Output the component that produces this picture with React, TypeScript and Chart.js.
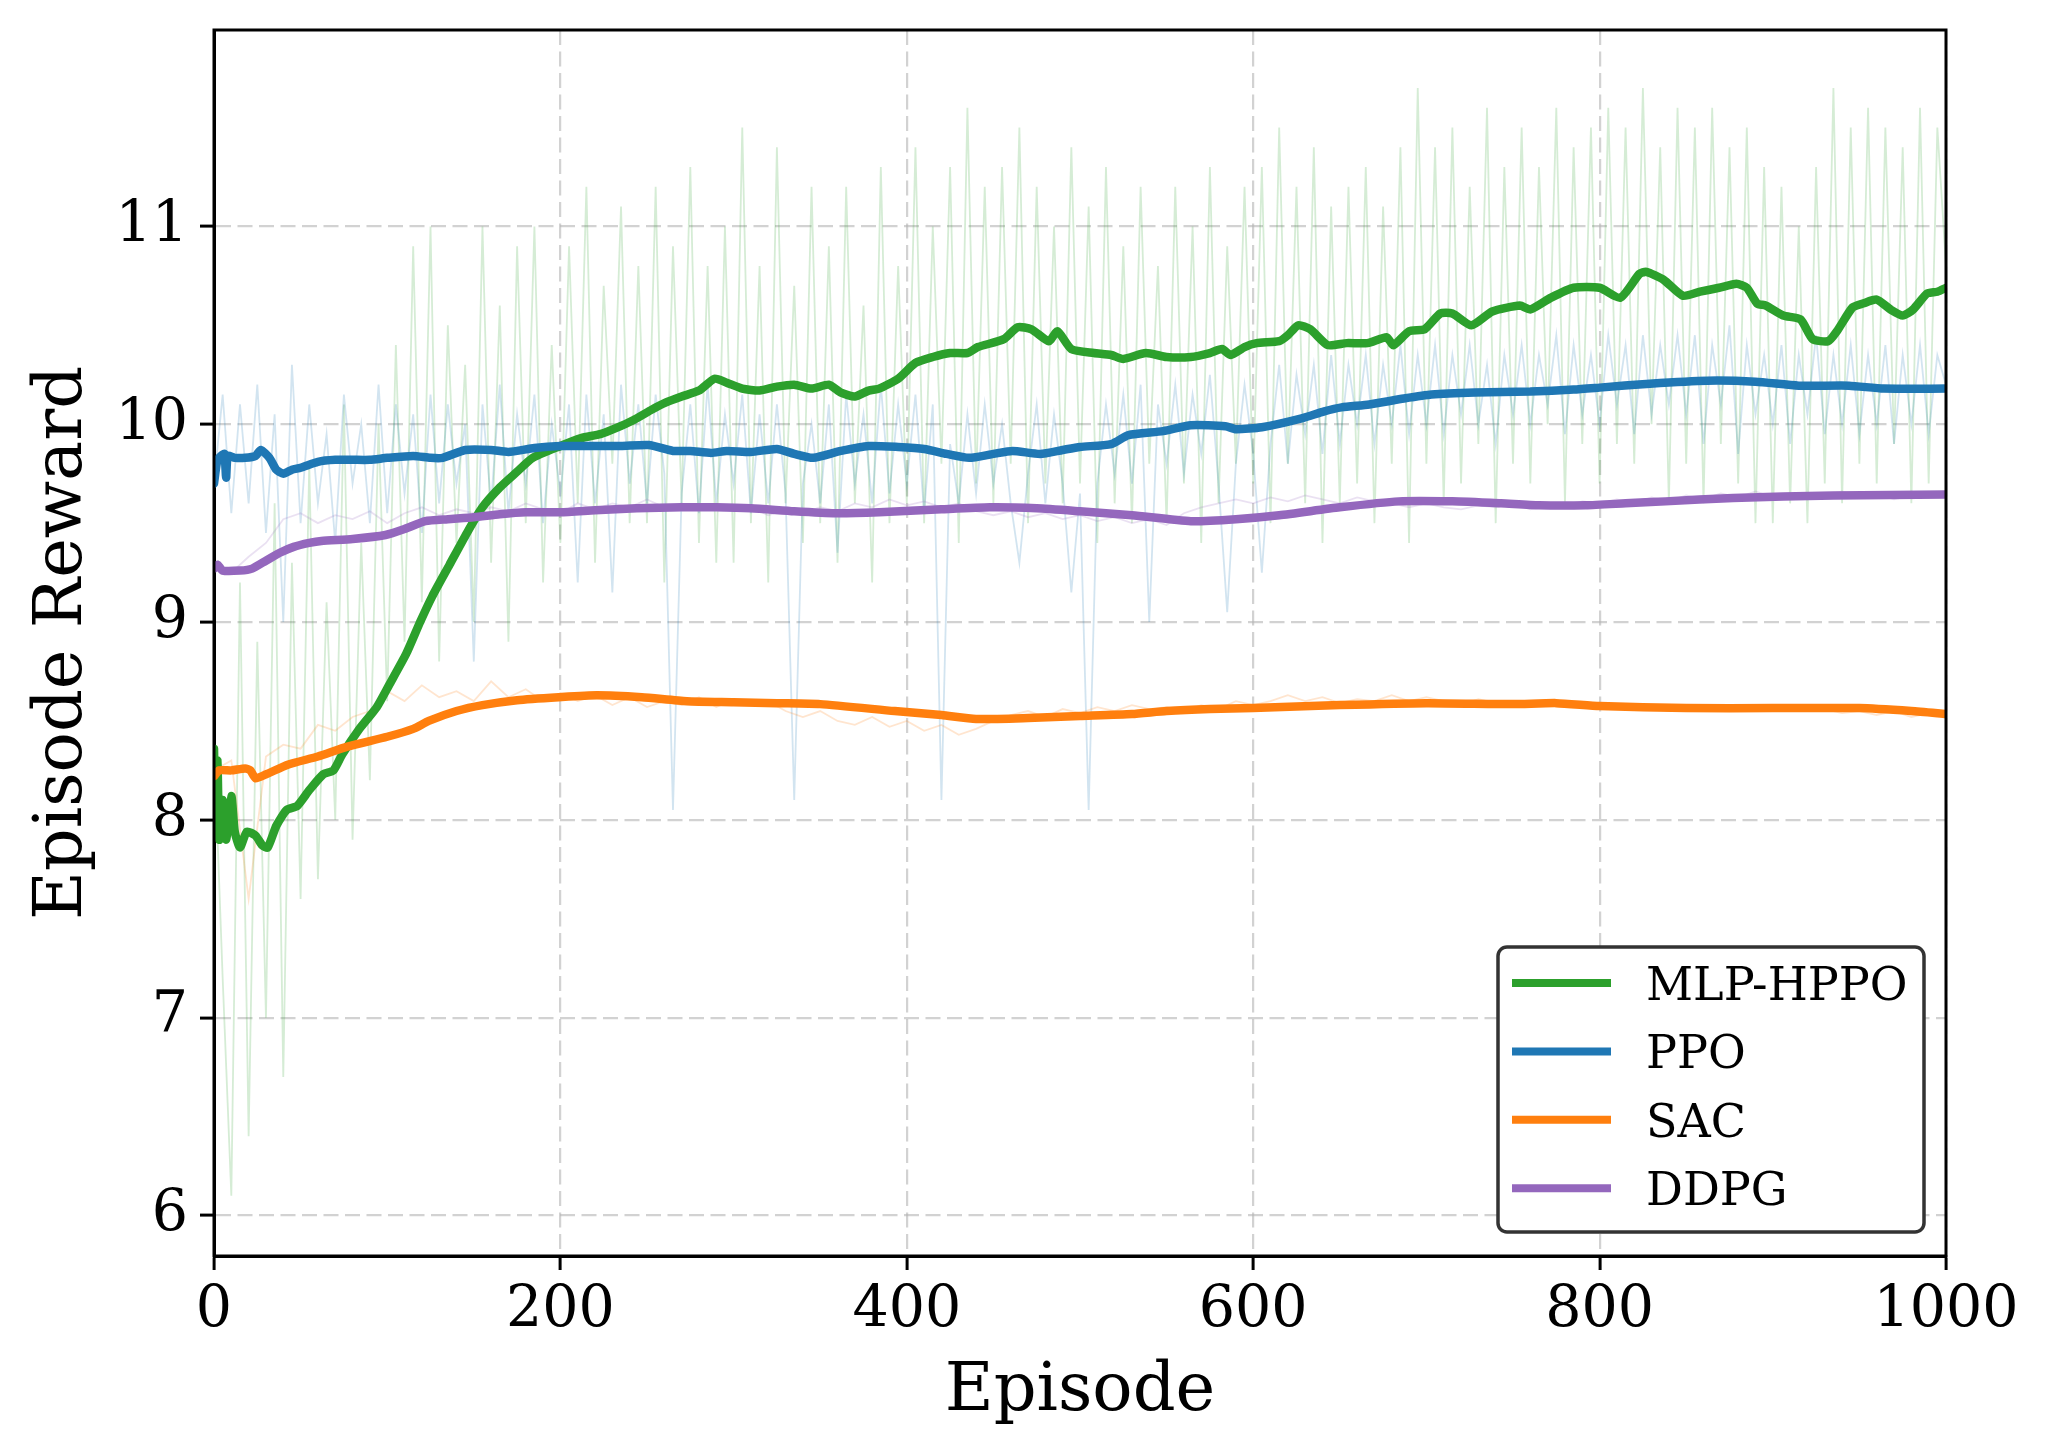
import React, { useEffect, useRef } from 'react';
import { Chart, registerables } from 'chart.js';

Chart.register(...registerables);

const W = 2051;
const H = 1453;
const FONT = "'DejaVu Serif', 'Liberation Serif', serif";

const seriesNames = ['MLP-HPPO', 'PPO', 'SAC', 'DDPG'];
const seriesColors = ['#2ca02c', '#1f77b4', '#ff7f0e', '#9467bd'];
const rawColors = ['rgba(44,160,44,0.2)', 'rgba(31,119,180,0.2)', 'rgba(255,127,14,0.2)', 'rgba(148,103,189,0.2)'];
const xTickValues = [0, 200, 400, 600, 800, 1000];
const yTickValues = [6, 7, 8, 9, 10, 11];

// sampling grids of the raw curves (episode numbers)
const rawEpisodesFine = Array.from({ length: 201 }, (_, i) => i * 5);
const rawEpisodesCoarse = Array.from({ length: 101 }, (_, i) => i * 10);

// smoothed curves: [episode, reward]
const mlpSmooth: [number, number][] = [
  [0, 8.36], [1, 7.95], [2, 8.3], [3, 7.9], [5, 8.1], [7, 7.9], [10, 8.12], [12, 7.94], [15, 7.86], [19, 7.94],
  [24, 7.92], [28, 7.87], [31, 7.86], [36, 7.97], [42, 8.05], [48, 8.07], [55, 8.15], [63, 8.23], [69, 8.25], [74, 8.33],
  [84, 8.46], [94, 8.57], [101, 8.68], [111, 8.84], [119, 9.0], [126, 9.13], [136, 9.29], [146, 9.45], [155, 9.58], [165, 9.68],
  [175, 9.76], [184, 9.83], [200, 9.89], [212, 9.93], [223, 9.95], [232, 9.98], [242, 10.02], [252, 10.07], [261, 10.11], [270, 10.14],
  [280, 10.17], [289, 10.23], [296, 10.21], [305, 10.18], [315, 10.17], [325, 10.19], [335, 10.2], [345, 10.18], [355, 10.2], [362, 10.16],
  [370, 10.14], [378, 10.17], [384, 10.18], [395, 10.23], [405, 10.31], [415, 10.34], [425, 10.36], [435, 10.36], [441, 10.39], [456, 10.43],
  [464, 10.49], [472, 10.48], [482, 10.42], [487, 10.47], [495, 10.38], [508, 10.36], [518, 10.35], [525, 10.33], [538, 10.36], [550, 10.34],
  [564, 10.34], [575, 10.36], [582, 10.38], [587, 10.35], [595, 10.39], [602, 10.41], [615, 10.42], [620, 10.45], [626, 10.5], [633, 10.48],
  [643, 10.4], [654, 10.41], [666, 10.41], [677, 10.44], [681, 10.4], [690, 10.47], [699, 10.48], [708, 10.56], [715, 10.56], [726, 10.5],
  [738, 10.57], [754, 10.6], [760, 10.58], [772, 10.64], [785, 10.69], [800, 10.69], [812, 10.64], [823, 10.76], [827, 10.77], [837, 10.73],
  [848, 10.65], [858, 10.67], [869, 10.69], [879, 10.71], [885, 10.69], [891, 10.61], [896, 10.6], [906, 10.55], [916, 10.53], [923, 10.43],
  [932, 10.42], [937, 10.47], [946, 10.59], [952, 10.61], [960, 10.63], [968, 10.58], [975, 10.55], [981, 10.58], [989, 10.66], [995, 10.67],
  [1000, 10.69],
];

const ppoSmooth: [number, number][] = [
  [0, 9.7], [2, 9.82], [4, 9.84], [6, 9.85], [7, 9.73], [8, 9.84], [12, 9.83], [18, 9.83], [24, 9.84], [27, 9.87],
  [32, 9.83], [36, 9.77], [40, 9.75], [45, 9.77], [50, 9.78], [60, 9.81], [70, 9.82], [80, 9.82], [90, 9.82], [100, 9.83],
  [115, 9.84], [125, 9.83], [132, 9.83], [145, 9.87], [160, 9.87], [170, 9.86], [185, 9.88], [200, 9.89], [215, 9.89], [235, 9.89],
  [251, 9.895], [265, 9.865], [275, 9.865], [287, 9.855], [296, 9.865], [310, 9.86], [325, 9.875], [335, 9.85], [346, 9.83], [362, 9.865],
  [378, 9.89], [395, 9.885], [410, 9.875], [423, 9.85], [436, 9.83], [450, 9.85], [461, 9.865], [477, 9.85], [490, 9.87], [500, 9.885],
  [518, 9.9], [528, 9.945], [548, 9.965], [564, 9.995], [584, 9.99], [590, 9.975], [605, 9.985], [628, 10.03], [641, 10.065], [651, 10.085],
  [667, 10.1], [687, 10.13], [703, 10.15], [728, 10.16], [760, 10.165], [785, 10.175], [800, 10.185], [829, 10.205], [862, 10.22], [890, 10.215],
  [915, 10.195], [944, 10.195], [964, 10.18], [1000, 10.18],
];

const sacSmooth: [number, number][] = [
  [0, 8.22], [3, 8.25], [10, 8.25], [18, 8.26], [21, 8.25], [24, 8.21], [30, 8.23], [43, 8.28], [60, 8.32], [77, 8.37],
  [100, 8.42], [115, 8.46], [124, 8.5], [140, 8.55], [155, 8.58], [175, 8.605], [199, 8.62], [221, 8.63], [247, 8.62], [273, 8.6],
  [300, 8.595], [325, 8.59], [350, 8.585], [393, 8.55], [420, 8.53], [440, 8.51], [470, 8.515], [500, 8.525], [530, 8.535], [550, 8.55],
  [575, 8.56], [600, 8.565], [650, 8.58], [700, 8.59], [750, 8.585], [775, 8.59], [800, 8.575], [850, 8.565], [900, 8.565], [950, 8.565],
  [980, 8.55], [1000, 8.535],
];

const ddpgSmooth: [number, number][] = [
  [0, 9.27], [2, 9.29], [5, 9.26], [15, 9.26], [22, 9.27], [30, 9.31], [38, 9.35], [46, 9.38], [55, 9.4], [62, 9.41],
  [80, 9.42], [99, 9.44], [110, 9.47], [122, 9.51], [135, 9.52], [150, 9.53], [165, 9.545], [180, 9.555], [200, 9.555], [220, 9.565],
  [244, 9.575], [270, 9.58], [290, 9.58], [310, 9.575], [335, 9.56], [359, 9.55], [384, 9.555], [420, 9.57], [448, 9.58], [475, 9.575],
  [500, 9.56], [530, 9.54], [564, 9.51], [590, 9.52], [615, 9.54], [650, 9.58], [684, 9.61], [715, 9.61], [743, 9.6], [765, 9.59],
  [792, 9.59], [815, 9.6], [838, 9.61], [877, 9.627], [935, 9.64], [1000, 9.645],
];

// raw episode rewards (every 5 episodes)
const mlpRaw = [
  8.4, 7.2, 6.1, 9.2, 6.4, 8.9, 7.0, 9.6, 6.7, 9.3,
  7.6, 9.8, 7.7, 9.1, 8.0, 10.1, 7.9, 9.4, 8.2, 10.0,
  8.6, 10.4, 8.9, 10.9, 9.1, 11.0, 8.8, 10.5, 9.4, 10.3,
  9.0, 11.0, 9.3, 10.6, 8.9, 10.9, 9.5, 11.0, 9.2, 10.4,
  9.4, 10.9, 9.6, 11.2, 9.3, 10.7, 9.8, 11.1, 9.5, 10.8,
  9.5, 11.2, 9.2, 10.9, 9.6, 11.3, 9.4, 10.8, 9.3, 11.0,
  9.3, 11.5, 9.5, 10.8, 9.2, 11.4, 9.6, 10.7, 9.4, 11.2,
  9.5, 10.9, 9.3, 11.2, 9.6, 10.6, 9.2, 11.3, 9.5, 10.8,
  9.6, 11.4, 9.5, 11.0, 9.8, 11.3, 9.4, 11.6, 9.7, 11.2,
  9.6, 11.3, 9.8, 11.5, 9.5, 11.2, 9.7, 11.0, 9.6, 11.4,
  9.7, 11.1, 9.4, 11.3, 9.6, 10.9, 9.5, 11.2, 9.8, 10.8,
  9.5, 11.2, 9.7, 11.0, 9.4, 11.3, 9.6, 10.9, 9.8, 11.2,
  9.7, 11.3, 9.5, 11.5, 9.8, 11.2, 9.6, 11.4, 9.4, 11.1,
  9.6, 11.2, 9.7, 11.3, 9.5, 11.1, 9.8, 11.4, 9.4, 11.7,
  9.8, 11.4, 9.6, 11.5, 9.7, 11.2, 9.9, 11.6, 9.5, 11.3,
  9.8, 11.5, 9.7, 11.3, 10.0, 11.6, 9.6, 11.4, 9.9, 11.5,
  9.7, 11.6, 9.9, 11.5, 9.8, 11.7, 10.0, 11.4, 9.6, 11.6,
  9.8, 11.5, 9.6, 11.6, 9.9, 11.4, 9.7, 11.5, 9.5, 11.3,
  9.5, 11.2, 9.6, 11.0, 9.5, 11.3, 9.7, 11.7, 9.6, 11.5,
  9.8, 11.6, 9.7, 11.5, 9.9, 11.4, 9.6, 11.6, 9.7, 11.5, 10.8,
];

const ppoRaw = [
  9.7, 10.15, 9.55, 10.1, 9.6, 10.2, 9.45, 10.05, 9.0, 10.3,
  9.5, 10.1, 9.6, 9.95, 9.4, 10.15, 9.7, 10.0, 9.5, 10.2,
  9.55, 10.1, 9.65, 10.05, 9.45, 10.15, 9.6, 10.1, 9.7, 10.0,
  8.8, 10.1, 9.6, 10.2, 9.55, 10.05, 9.7, 10.15, 9.5, 10.0,
  9.65, 10.1, 9.2, 10.15, 9.6, 10.05, 9.15, 10.2, 9.7, 10.1,
  9.6, 10.15, 9.75, 8.05, 9.65, 10.1, 9.55, 10.2, 9.6, 10.05,
  9.7, 10.15, 9.55, 10.05, 9.6, 10.1, 9.65, 8.1, 9.7, 10.0,
  9.6, 10.1, 9.35, 10.15, 9.7, 10.05, 9.6, 10.2, 9.65, 10.1,
  9.7, 10.15, 9.55, 10.1, 8.1, 9.9, 9.6, 10.05, 9.65, 10.1,
  9.7, 10.0, 9.6, 9.3, 9.75, 10.1, 9.6, 10.05, 9.7, 9.15,
  9.65, 8.05, 9.7, 10.1, 9.75, 10.15, 9.7, 10.2, 9.0, 10.1,
  9.8, 10.2, 9.75, 10.15, 9.85, 10.25, 9.7, 9.05, 9.8, 10.2,
  9.85, 9.25, 9.9, 10.3, 9.8, 10.25, 9.95, 10.3, 9.85, 10.35,
  9.9, 10.3, 10.0, 10.35, 9.9, 10.3, 10.0, 10.4, 9.95, 10.35,
  10.0, 10.4, 9.95, 10.35, 10.05, 10.4, 10.0, 10.3, 9.9, 10.35,
  10.05, 10.4, 10.0, 10.35, 10.1, 10.45, 9.95, 10.4, 10.05, 10.35,
  10.0, 10.45, 10.1, 10.4, 9.95, 10.45, 10.05, 10.4, 10.1, 10.45,
  10.05, 10.45, 9.9, 10.4, 10.1, 10.5, 9.85, 10.4, 10.05, 10.35,
  10.0, 10.4, 9.9, 10.35, 10.05, 10.45, 9.95, 10.35, 10.0, 10.4,
  9.95, 10.35, 10.0, 10.4, 9.9, 10.35, 10.0, 10.4, 9.95, 10.35, 10.2,
];

// raw episode rewards (every 10 episodes)
const sacRaw = [
  8.25, 8.3, 7.6, 8.32, 8.38, 8.36, 8.48, 8.45, 8.52, 8.55,
  8.65, 8.6, 8.68, 8.62, 8.65, 8.6, 8.7, 8.62, 8.66, 8.6,
  8.64, 8.6, 8.63, 8.58, 8.62, 8.57, 8.6, 8.58, 8.62, 8.57,
  8.61, 8.58, 8.6, 8.55, 8.52, 8.55, 8.5, 8.48, 8.52, 8.47,
  8.5, 8.45, 8.48, 8.43, 8.46, 8.5, 8.53, 8.55, 8.52, 8.56,
  8.54, 8.57, 8.55, 8.58, 8.56, 8.57, 8.55, 8.58, 8.56, 8.6,
  8.58, 8.6, 8.63, 8.6, 8.62, 8.59, 8.61, 8.6, 8.63, 8.6,
  8.62, 8.6, 8.58, 8.61, 8.59, 8.6, 8.58, 8.6, 8.57, 8.58,
  8.56, 8.58, 8.56, 8.57, 8.55, 8.57, 8.56, 8.58, 8.55, 8.57,
  8.56, 8.58, 8.55, 8.56, 8.54, 8.55, 8.53, 8.55, 8.52, 8.54,
  8.53,
];

const ddpgRaw = [
  9.27, 9.25, 9.33, 9.4, 9.52, 9.55, 9.5, 9.54, 9.52, 9.56,
  9.5, 9.55, 9.58, 9.54, 9.57, 9.55, 9.58, 9.56, 9.6, 9.57,
  9.55, 9.6, 9.57, 9.6, 9.58, 9.62, 9.58, 9.6, 9.57, 9.59,
  9.56, 9.58, 9.54, 9.57, 9.55, 9.58, 9.56, 9.6, 9.58, 9.62,
  9.59, 9.61, 9.58, 9.6, 9.56, 9.54, 9.56, 9.53, 9.55, 9.52,
  9.54, 9.51, 9.53, 9.5, 9.52, 9.49, 9.55, 9.58, 9.6, 9.62,
  9.6, 9.63, 9.61, 9.64, 9.62, 9.6, 9.63, 9.61, 9.6, 9.58,
  9.6, 9.58, 9.57, 9.59, 9.58, 9.6, 9.57, 9.59, 9.58, 9.61,
  9.6, 9.62, 9.6, 9.63, 9.61, 9.64, 9.62, 9.65, 9.63, 9.66,
  9.63, 9.65, 9.62, 9.64, 9.66, 9.63, 9.65, 9.62, 9.64, 9.63,
  9.64,
];

const pairsToPoints = (pairs: [number, number][]) => pairs.map(([x, y]) => ({ x, y }));
const rawToPoints = (eps: number[], vals: number[]) => vals.map((y, i) => ({ x: eps[i], y }));

const framePlugin = {
  id: 'mplFrame',
  afterDatasetsDraw(chart: any) {
    const { ctx, chartArea } = chart;
    ctx.save();
    ctx.strokeStyle = '#000';
    ctx.lineWidth = 3;
    ctx.strokeRect(chartArea.left, chartArea.top, chartArea.right - chartArea.left, chartArea.bottom - chartArea.top);
    ctx.restore();
  },
};

const legendPlugin = {
  id: 'mplLegend',
  afterDraw(chart: any) {
    const { ctx, chartArea } = chart;
    const w = 426;
    const h = 285;
    const x0 = chartArea.right - 22 - w;
    const y0 = chartArea.bottom - 24 - h;
    ctx.save();
    ctx.beginPath();
    ctx.roundRect(x0, y0, w, h, 9);
    ctx.fillStyle = '#ffffff';
    ctx.fill();
    ctx.lineWidth = 3.5;
    ctx.strokeStyle = '#333333';
    ctx.stroke();
    ctx.font = `46px ${FONT}`;
    ctx.textAlign = 'left';
    ctx.textBaseline = 'alphabetic';
    seriesNames.forEach((name, i) => {
      const cy = y0 + 36 + i * 68.4;
      ctx.beginPath();
      ctx.moveTo(x0 + 14, cy);
      ctx.lineTo(x0 + 113, cy);
      ctx.lineWidth = 8;
      ctx.strokeStyle = seriesColors[i];
      ctx.lineCap = 'butt';
      ctx.stroke();
      ctx.fillStyle = '#000';
      ctx.fillText(name, x0 + 148, cy + 16.7);
    });
    ctx.restore();
  },
};

export default function App() {
  const canvasRef = useRef<HTMLCanvasElement | null>(null);

  useEffect(() => {
    document.body.style.margin = '0';
    const canvas = canvasRef.current;
    if (!canvas) return;

    const rawSets = [
      { label: 'MLP-HPPO raw', data: rawToPoints(rawEpisodesFine, mlpRaw), color: rawColors[0], order: 14 },
      { label: 'PPO raw', data: rawToPoints(rawEpisodesFine, ppoRaw), color: rawColors[1], order: 13 },
      { label: 'SAC raw', data: rawToPoints(rawEpisodesCoarse, sacRaw), color: rawColors[2], order: 12 },
      { label: 'DDPG raw', data: rawToPoints(rawEpisodesCoarse, ddpgRaw), color: rawColors[3], order: 11 },
    ].map((d) => ({
      label: d.label,
      data: d.data,
      borderColor: d.color,
      borderWidth: 1.8,
      pointRadius: 0,
      tension: 0,
      fill: false,
      order: d.order,
    }));

    const smoothSets = [
      { label: seriesNames[0], data: pairsToPoints(mlpSmooth), color: seriesColors[0], order: 4 },
      { label: seriesNames[1], data: pairsToPoints(ppoSmooth), color: seriesColors[1], order: 3 },
      { label: seriesNames[2], data: pairsToPoints(sacSmooth), color: seriesColors[2], order: 2 },
      { label: seriesNames[3], data: pairsToPoints(ddpgSmooth), color: seriesColors[3], order: 1 },
    ].map((d) => ({
      label: d.label,
      data: d.data,
      borderColor: d.color,
      borderWidth: 8.5,
      pointRadius: 0,
      tension: 0.2,
      fill: false,
      borderJoinStyle: 'round' as const,
      borderCapStyle: 'round' as const,
      order: d.order,
    }));

    const gridOpts = {
      color: 'rgba(180,180,180,0.6)',
      lineWidth: 2.2,
      drawTicks: true,
      tickLength: 14,
      tickColor: '#000',
      tickWidth: 3,
      tickBorderDash: [],
    };

    const chart = new Chart(canvas, {
      type: 'line',
      data: { datasets: [...rawSets, ...smoothSets] as any },
      options: {
        animation: false,
        responsive: false,
        devicePixelRatio: 1,
        layout: { padding: { top: 30, right: 105, bottom: 0, left: 0 } },
        plugins: {
          legend: { display: false },
          tooltip: { enabled: false },
        },
        scales: {
          x: {
            type: 'linear',
            min: 0,
            max: 1000,
            afterBuildTicks: (s: any) => {
              s.ticks = xTickValues.map((v) => ({ value: v }));
            },
            afterFit: (s: any) => {
              s.height = 197;
              s.paddingLeft = 0;
              s.paddingRight = 0;
            },
            ticks: {
              font: { family: FONT, size: 57 },
              color: '#000',
              padding: 7,
              maxRotation: 0,
              autoSkip: false,
              callback: (v: any) => String(v),
            },
            grid: gridOpts,
            border: { display: true, color: '#000', width: 3, dash: [15, 6.5] },
            title: {
              display: true,
              text: 'Episode',
              color: '#000',
              font: { family: FONT, size: 67 },
              padding: { top: 0, bottom: 20 },
            },
          },
          y: {
            type: 'linear',
            min: 5.795,
            max: 11.993,
            afterBuildTicks: (s: any) => {
              s.ticks = yTickValues.map((v) => ({ value: v }));
            },
            afterFit: (s: any) => {
              s.width = 214;
              s.paddingTop = 0;
              s.paddingBottom = 0;
            },
            ticks: {
              font: { family: FONT, size: 57 },
              color: '#000',
              padding: 12,
              autoSkip: false,
              callback: (v: any) => String(v),
            },
            grid: gridOpts,
            border: { display: true, color: '#000', width: 3, dash: [15, 6.5] },
            title: {
              display: true,
              text: 'Episode Reward',
              color: '#000',
              font: { family: FONT, size: 67 },
              padding: { top: 23, bottom: 0 },
            },
          },
        },
      },
      plugins: [framePlugin, legendPlugin],
    });

    return () => chart.destroy();
  }, []);

  return (
    <div style={{ position: 'fixed', left: 0, top: 0, width: W, height: H, background: '#fff' }}>
      <canvas ref={canvasRef} width={W} height={H} style={{ display: 'block', width: W, height: H }} />
    </div>
  );
}
